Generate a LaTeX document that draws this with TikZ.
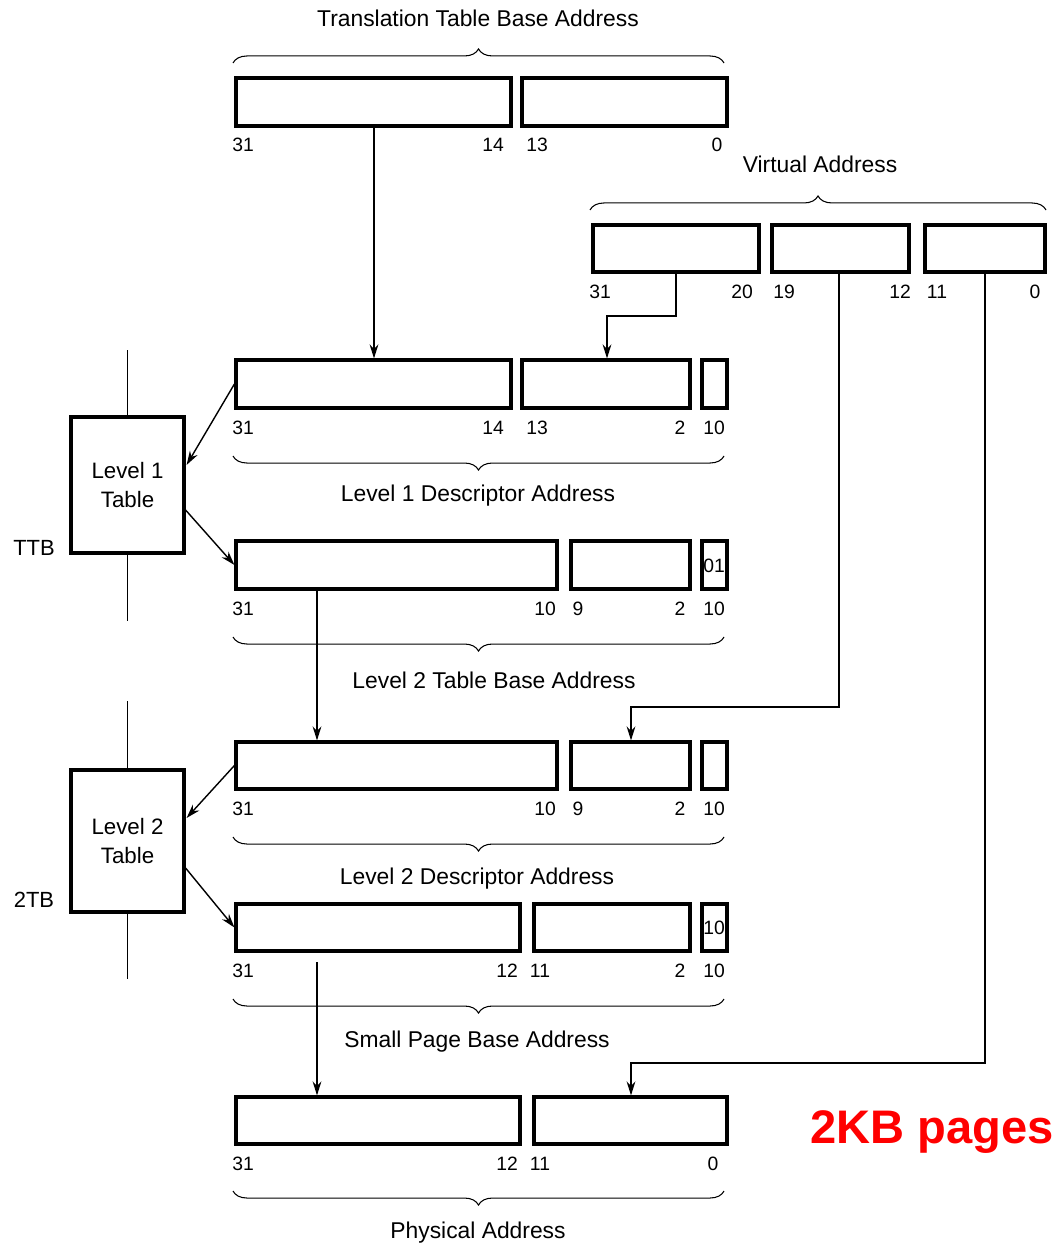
\documentclass[tikz,border=0pt]{standalone}
\usepackage{fontspec}
\setmainfont{Liberation Sans}
\usetikzlibrary{fit,calc,arrows.meta,decorations.pathreplacing}
\begin{document}
\begin{tikzpicture}[x=0.02cm,y=-0.02cm,
  fld/.style={draw,line width=1.8pt,inner sep=0pt},
  tbl/.style={draw,line width=1.8pt,minimum width=113*0.02cm,align=center,font=\fontsize{12.7}{16}\selectfont},
  lbl/.style={font=\fontsize{11}{13}\selectfont,inner sep=0pt},
  title/.style={font=\fontsize{13}{15}\selectfont,inner sep=0pt},
  conn/.style={line width=0.8pt},
  arr/.style={line width=0.8pt,-{Stealth[length=8pt,width=5pt]}},
  brc/.style={line width=0.6pt,decorate,decoration={brace,amplitude=8pt}}]
\useasboundingbox (0,0) rectangle (1060,1246);

% field boxes: \fieldbox{name}{x1}{x2}{y1}{y2}
\newcommand{\fieldbox}[5]{\node[fld,fit={(#2,#4) (#3,#5)}] (#1) {};}
% bit numbers under a box
\newcommand{\bitnum}[3]{\node[lbl] at (#1,#2) {#3};}

% Translation table base
\fieldbox{ta}{236}{511}{78}{126}
\fieldbox{tb}{522}{727}{78}{126}
\bitnum{243}{145}{31}\bitnum{493}{145}{14}\bitnum{537}{145}{13}\bitnum{717}{145}{0}
\draw[brc] (233,63) -- (724,63);
\node[title] (ttbtitle) at (478,18) {Translation Table Base Address};

% Virtual address
\fieldbox{va}{593}{759}{225}{272}
\fieldbox{vb}{772}{909}{225}{272}
\fieldbox{vc}{925}{1045}{225}{272}
\bitnum{600}{292}{31}\bitnum{742}{292}{20}\bitnum{784}{292}{19}\bitnum{900}{292}{12}\bitnum{937}{292}{11}\bitnum{1035}{292}{0}
\draw[brc] (590,210) -- (1046,210);
\node[title] (vatitle) at (820,164) {Virtual Address};

% Level 1 descriptor address
\fieldbox{da}{236}{511}{360}{408}
\fieldbox{db}{522}{690}{360}{408}
\fieldbox{dc}{702}{727}{360}{408}
\bitnum{243}{428}{31}\bitnum{493}{428}{14}\bitnum{537}{428}{13}\bitnum{680}{428}{2}\bitnum{714}{428}{10}
\draw[brc] (724,456) -- (233,456);
\node[title] (l1dtitle) at (478,496) {Level 1 Descriptor Address};

% Level 2 table base address
\fieldbox{ea}{236}{557}{541}{589}
\fieldbox{eb}{571}{690}{541}{589}
\fieldbox{ec}{702}{727}{541}{589}
\node[lbl] at (714,566) {01};
\bitnum{243}{609}{31}\bitnum{545}{609}{10}\bitnum{578}{609}{9}\bitnum{680}{609}{2}\bitnum{714}{609}{10}
\draw[brc] (724,637) -- (233,637);
\node[title] (l2ttitle) at (494,680) {Level 2 Table Base Address};

% Level 2 descriptor address
\fieldbox{fa}{236}{557}{742}{789}
\fieldbox{fb}{571}{690}{742}{789}
\fieldbox{fc}{702}{727}{742}{789}
\bitnum{243}{809}{31}\bitnum{545}{809}{10}\bitnum{578}{809}{9}\bitnum{680}{809}{2}\bitnum{714}{809}{10}
\draw[brc] (724,837) -- (233,837);
\node[title] (l2dtitle) at (477,879) {Level 2 Descriptor Address};

% Small page base address
\fieldbox{ga}{236}{520}{904}{951}
\fieldbox{gb}{534}{690}{904}{951}
\fieldbox{gc}{702}{727}{904}{951}
\node[lbl] at (714,928) {10};
\bitnum{243}{971}{31}\bitnum{507}{971}{12}\bitnum{540}{971}{11}\bitnum{680}{971}{2}\bitnum{714}{971}{10}
\draw[brc] (724,999) -- (233,999);
\node[title] (sptitle) at (477,1042) {Small Page Base Address};

% Physical address
\fieldbox{pa}{236}{520}{1097}{1144}
\fieldbox{pb}{534}{727}{1097}{1144}
\bitnum{243}{1164}{31}\bitnum{507}{1164}{12}\bitnum{540}{1164}{11}\bitnum{713}{1164}{0}
\draw[brc] (724,1191) -- (233,1191);
\node[title] (patitle) at (478,1233) {Physical Address};

% Page tables
\node[tbl,minimum height=136*0.02cm] (l1) at (127.5,485) {Level 1\\Table};
\draw[conn] (l1.north) -- ++(0,-65);
\draw[conn] (l1.south) -- ++(0,66);
\node[lbl,font=\fontsize{12.5}{14}\selectfont] (ttb) at (34,548) {TTB};

\node[tbl,minimum height=142*0.02cm] (l2) at (127.5,841) {Level 2\\Table};
\draw[conn] (l2.north) -- ++(0,-67);
\draw[conn] (l2.south) -- ++(0,65);
\node[lbl,font=\fontsize{12.5}{14}\selectfont] (twotb) at (34,900) {2TB};

% Connectors
\coordinate (k1) at (374,0);
\draw[arr] (ta.south -| k1) -- (da.north -| k1);

\coordinate (k2) at (676,316);
\coordinate (k3) at (607,316);
\draw[arr] (va.south -| k2) |- (k3) -- (db.north -| k3);

\draw[arr] (da.west) -- ($(l1.east)+(1,-20)$);
\draw[arr] ($(l1.east)+(0,25)$) -- (ea.west);

\coordinate (k4) at (317,0);
\draw[arr] (ea.south -| k4) -- (fa.north -| k4);

\coordinate (k5) at (839,707);
\coordinate (k6) at (631,707);
\draw[arr] (vb.south -| k5) |- (k6) -- (fb.north -| k6);

\draw[arr] (fa.west) -- ($(l2.east)+(1,-23)$);
\draw[arr] ($(l2.east)+(0,27)$) -- (ga.west);

\coordinate (k7) at (317,962);
\draw[arr] (k7) -- (pa.north -| k7);

\coordinate (k8) at (985,1063);
\coordinate (k9) at (631,1063);
\draw[arr] (vc.south -| k8) |- (k9) -- (pb.north -| k9);

% Page size note
\node[font=\fontsize{26.8}{30}\selectfont\bfseries,text=red,inner sep=0pt] (note) at (932,1132) {2KB pages};
\end{tikzpicture}
\end{document}
